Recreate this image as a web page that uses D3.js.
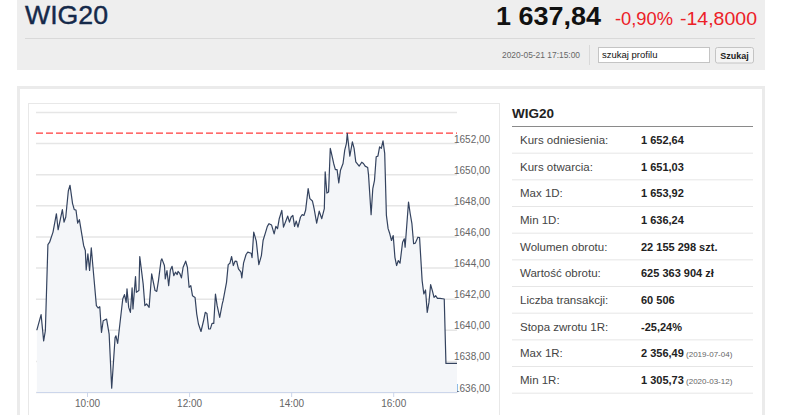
<!DOCTYPE html>
<html>
<head>
<meta charset="utf-8">
<script src="https://cdn.jsdelivr.net/npm/d3@7"></script>
<style>
    body { margin: 0; background: #fff; }
    svg { display: block; font-family: "Liberation Sans", Arial, sans-serif; }
</style>
</head>
<body>
<script>

/* intraday WIG20 quotes, 2020-05-21 */
let times = [
    "09:01", "09:06", "09:09", "09:11", "09:14", "09:16", "09:20", "09:24", "09:26", "09:31",
    "09:33", "09:35", "09:38", "09:40", "09:43", "09:45", "09:47", "09:49", "09:51", "09:56",
    "09:58", "09:59", "10:01", "10:03", "10:05", "10:07", "10:11", "10:13", "10:15", "10:17",
    "10:19", "10:23", "10:26", "10:29", "10:33", "10:34", "10:36", "10:42", "10:44", "10:46",
    "10:47", "10:49", "10:51", "10:53", "10:54", "10:57", "10:58", "11:01", "11:02", "11:06",
    "11:08", "11:10", "11:13", "11:16", "11:20", "11:22", "11:24", "11:27", "11:28", "11:31",
    "11:32", "11:34", "11:36", "11:38", "11:40", "11:42", "11:44", "11:46", "11:47", "11:49",
    "11:51", "11:53", "11:56", "11:58", "12:00", "12:02", "12:04", "12:07", "12:09", "12:11",
    "12:14", "12:17", "12:19", "12:21", "12:23", "12:25", "12:27", "12:29", "12:31", "12:33",
    "12:36", "12:39", "12:40", "12:44", "12:46", "12:48", "12:50", "12:52", "12:54", "12:56",
    "12:58", "13:01", "13:02", "13:04", "13:07", "13:09", "13:13", "13:14", "13:16", "13:19",
    "13:22", "13:25", "13:27", "13:30", "13:32", "13:34", "13:37", "13:40", "13:42", "13:44",
    "13:46", "13:49", "13:51", "13:54", "13:56", "13:58", "14:00", "14:02", "14:04", "14:06",
    "14:08", "14:11", "14:13", "14:15", "14:17", "14:20", "14:22", "14:25", "14:27", "14:30",
    "14:33", "14:34", "14:36", "14:39", "14:40", "14:42", "14:44", "14:46", "14:47", "14:50",
    "14:52", "14:54", "14:56", "14:58", "15:01", "15:03", "15:05", "15:06", "15:09", "15:12",
    "15:14", "15:16", "15:20", "15:23", "15:25", "15:27", "15:30", "15:31", "15:34", "15:36",
    "15:38", "15:40", "15:42", "15:44", "15:46", "15:48", "15:50", "15:52", "15:54", "15:56",
    "15:58", "16:00", "16:02", "16:04", "16:06", "16:08", "16:11", "16:13", "16:14", "16:18",
    "16:20", "16:22", "16:24", "16:26", "16:29", "16:31", "16:34", "16:36", "16:38", "16:40",
    "16:42", "16:44", "16:46", "16:48", "16:50", "16:52", "16:55", "17:00", "17:02", "17:15"
];

let values = [
    1639.98, 1640.97, 1639.29, 1639.94, 1645.48, 1645.63, 1646.28, 1647.46, 1646.43, 1647.72,
    1646.92, 1647.25, 1648.92, 1649.29, 1648.11, 1647.72, 1647.70, 1646.86, 1647.08, 1645.42,
    1645.10, 1643.85, 1644.88, 1643.81, 1645.27, 1644.02, 1641.55, 1641.40, 1641.48, 1639.83,
    1640.58, 1640.69, 1639.72, 1636.24, 1639.50, 1639.61, 1639.12, 1641.98, 1642.26, 1641.76,
    1642.63, 1641.44, 1641.12, 1642.69, 1641.34, 1643.42, 1642.41, 1642.52, 1644.71, 1642.95,
    1641.55, 1641.66, 1641.44, 1643.59, 1642.52, 1642.47, 1643.16, 1644.45, 1644.56, 1644.13,
    1643.27, 1643.81, 1642.84, 1643.85, 1644.08, 1643.48, 1643.70, 1643.55, 1643.76, 1643.63,
    1643.34, 1644.02, 1644.41, 1644.02, 1642.73, 1642.84, 1642.19, 1642.08, 1641.01, 1640.37,
    1639.89, 1640.58, 1641.12, 1641.05, 1640.05, 1640.06, 1640.41, 1640.41, 1642.30, 1641.55,
    1640.79, 1641.66, 1641.87, 1643.05, 1644.19, 1644.28, 1644.71, 1644.13, 1644.41, 1644.40,
    1643.92, 1643.70, 1643.34, 1644.28, 1644.84, 1644.99, 1644.92, 1644.63, 1646.28, 1645.70,
    1644.19, 1644.77, 1645.74, 1646.28, 1646.65, 1646.82, 1646.73, 1646.17, 1646.65, 1646.50,
    1647.14, 1647.68, 1646.60, 1647.03, 1647.31, 1646.92, 1647.25, 1647.35, 1646.65, 1646.99,
    1646.60, 1647.25, 1647.40, 1647.35, 1647.68, 1649.08, 1648.43, 1648.28, 1647.79, 1646.86,
    1647.63, 1647.46, 1647.14, 1647.79, 1650.15, 1648.79, 1648.86, 1651.66, 1651.44, 1650.69,
    1650.30, 1650.30, 1649.44, 1650.26, 1650.69, 1651.55, 1651.98, 1652.62, 1651.16, 1652.08,
    1651.66, 1650.79, 1650.52, 1650.77, 1650.69, 1650.52, 1650.43, 1649.94, 1647.40, 1649.08,
    1649.61, 1651.12, 1651.16, 1651.76, 1651.66, 1652.15, 1651.34, 1647.35, 1646.50, 1646.17,
    1645.74, 1646.06, 1644.66, 1644.13, 1644.45, 1644.28, 1645.63, 1645.85, 1645.31, 1648.21,
    1647.46, 1646.82, 1645.53, 1645.57, 1645.95, 1645.92, 1643.16, 1642.30, 1642.56, 1641.12,
    1641.76, 1642.90, 1642.52, 1642.08, 1642.19, 1642.02, 1642.02, 1641.98, 1637.84, 1637.84
];

let referencePrice = 1652.64;
let sessionRange = ["09:00", "17:15"];
let xTicks = ["10:00", "12:00", "14:00", "16:00"];
let yTicks = [1636, 1638, 1640, 1642, 1644, 1646, 1648, 1650, 1652, 1654];
let yDomain = [1636, 1654];

let statLabels = ["Kurs odniesienia:", "Kurs otwarcia:", "Max 1D:", "Min 1D:", "Wolumen obrotu:",
    "Wartość obrotu:", "Liczba transakcji:", "Stopa zwrotu 1R:", "Max 1R:", "Min 1R:"];
let statValues = ["1 652,64", "1 651,03", "1 653,92", "1 636,24", "22 155 298 szt.",
    "625 363 904 zł", "60 506", "-25,24%", "2 356,49", "1 305,73"];
let statNotes = ["", "", "", "", "", "", "", "", "(2019-07-04)", "(2020-03-12)"];

let width = 786;
let height = 415;

let svg = d3.select("body")
    .append("svg")
    .attr("width", width)
    .attr("height", height);

/* ---------- header bar ---------- */
let head = svg.append("g");

head.append("rect").attr("x", 17).attr("y", 0).attr("width", 748).attr("height", 70).attr("fill", "#eeeeee");

head.append("text").attr("x", 25).attr("y", 24).text("WIG20")
    .attr("font-size", "25px").attr("fill", "#15294a")
    .attr("stroke", "#15294a").attr("stroke-width", 0.4)
    .attr("textLength", 83).attr("lengthAdjust", "spacingAndGlyphs");

head.append("text").attr("x", 496).attr("y", 25).text("1 637,84")
    .attr("font-size", "26px").attr("font-weight", "bold").attr("fill", "#111")
    .attr("textLength", 105).attr("lengthAdjust", "spacingAndGlyphs");

head.append("text").attr("x", 615).attr("y", 25).text("-0,90%")
    .attr("font-size", "19px").attr("fill", "#ec2027")
    .attr("textLength", 58).attr("lengthAdjust", "spacingAndGlyphs");

head.append("text").attr("x", 680).attr("y", 25).text("-14,8000")
    .attr("font-size", "19px").attr("fill", "#ec2027")
    .attr("textLength", 77).attr("lengthAdjust", "spacingAndGlyphs");

head.append("line").attr("x1", 25).attr("x2", 755).attr("y1", 38.5).attr("y2", 38.5)
    .attr("stroke", "#d9d9d9");

head.append("text").attr("x", 502).attr("y", 58).text("2020-05-21 17:15:00")
    .attr("font-size", "8.5px").attr("fill", "#666")
    .attr("textLength", 78).attr("lengthAdjust", "spacingAndGlyphs");

head.append("line").attr("x1", 589.5).attr("x2", 589.5).attr("y1", 45).attr("y2", 65)
    .attr("stroke", "#d9d9d9");

/* search box + button */
head.append("rect").attr("x", 598.5).attr("y", 47.5).attr("width", 111).attr("height", 15)
    .attr("fill", "#fff").attr("stroke", "#c4c4c4");
head.append("text").attr("x", 602).attr("y", 57.5).text("szukaj profilu")
    .attr("font-size", "9.5px").attr("fill", "#111");

head.append("rect").attr("x", 715.5).attr("y", 47.5).attr("width", 38).attr("height", 15.5)
    .attr("rx", 2).attr("fill", "#f4f4f4").attr("stroke", "#c4c4c4");
head.append("text").attr("x", 734.5).attr("y", 58.5).text("Szukaj")
    .attr("font-size", "9px").attr("font-weight", "bold").attr("fill", "#222")
    .attr("text-anchor", "middle");

/* ---------- panel ---------- */
svg.append("rect").attr("x", 18.5).attr("y", 87.5).attr("width", 745).attr("height", 340)
    .attr("fill", "#fff").attr("stroke", "#ebebeb").attr("stroke-width", 3);

svg.append("rect").attr("x", 28.5).attr("y", 103.5).attr("width", 471).attr("height", 330)
    .attr("fill", "#fff").attr("stroke", "#e8e8e8");

/* ---------- chart ---------- */
let parseTime = d3.timeParse("%H:%M");
let data = times.map((t, i) => ({ time: parseTime(t), value: values[i] }));

let xScale = d3.scaleTime()
    .domain(sessionRange.map(parseTime))
    .range([36, 457]);

let yScale = d3.scaleLinear()
    .domain(yDomain)
    .range([392, 112]);

let fmt = d3.format(".2f");

/* gridlines + labels on the right (top gridline has no label) */
let yAxis = d3.axisRight(yScale)
    .tickValues(yTicks)
    .tickSize(-(457 - 36))
    .tickFormat(d => d === yDomain[1] ? "" : fmt(d).replace(".", ","));

let yG = svg.append("g")
    .attr("transform", "translate(457,0)")
    .call(yAxis);
yG.select(".domain").remove();
yG.selectAll(".tick line").attr("stroke", "#e6e6e6").attr("stroke-width", 1.5);
yG.selectAll(".tick text")
    .attr("x", -3).attr("dy", "-0.1em")
    .attr("fill", "#666").attr("font-size", "10px")
    .attr("font-family", "'Liberation Sans', Arial, sans-serif");

/* area + line */
let area = d3.area()
    .x(d => xScale(d.time))
    .y0(yScale(yDomain[0]))
    .y1(d => yScale(d.value));

svg.append("path").datum(data)
    .attr("d", area)
    .attr("fill", "#f4f6f9");

/* reference price (dashed) */
svg.append("line")
    .attr("x1", 36).attr("x2", 457)
    .attr("y1", yScale(referencePrice)).attr("y2", yScale(referencePrice))
    .attr("stroke", "#ff3b3b").attr("stroke-width", 1.2)
    .attr("stroke-dasharray", "7,3");

let line = d3.line()
    .x(d => xScale(d.time))
    .y(d => yScale(d.value));

svg.append("path").datum(data)
    .attr("d", line)
    .attr("fill", "none")
    .attr("stroke", "#34435f")
    .attr("stroke-width", 1.2)
    .attr("stroke-linejoin", "round");

/* x axis */
let xAxis = d3.axisBottom(xScale)
    .tickValues(xTicks.map(parseTime))
    .tickSize(5)
    .tickSizeOuter(0)
    .tickFormat(d3.timeFormat("%H:%M"));

let xG = svg.append("g")
    .attr("transform", "translate(0,392)")
    .call(xAxis);
xG.select(".domain").attr("stroke", "#ccd6eb");
xG.selectAll(".tick line").attr("stroke", "#ccd6eb");
xG.selectAll(".tick text")
    .attr("fill", "#666").attr("font-size", "10px")
    .attr("font-family", "'Liberation Sans', Arial, sans-serif");

/* ---------- stats table ---------- */
let tbl = svg.append("g");

tbl.append("text").attr("x", 512).attr("y", 118).text("WIG20")
    .attr("font-size", "13.5px").attr("font-weight", "bold").attr("fill", "#222");

tbl.append("line").attr("x1", 512).attr("x2", 753).attr("y1", 126.5).attr("y2", 126.5)
    .attr("stroke", "#8a8a8a");

let rowH = 26.67;

statLabels.forEach((label, i) => {
    let top = 126.5 + i * rowH;
    let base = top + rowH / 2 + 4;

    tbl.append("text").attr("x", 520).attr("y", base).text(label)
        .attr("font-size", "11.5px").attr("fill", "#444");

    let v = tbl.append("text").attr("x", 641).attr("y", base)
        .attr("font-size", "11px").attr("fill", "#222");
    v.append("tspan").attr("font-weight", "bold").text(statValues[i]);
    if (statNotes[i]) {
        v.append("tspan").attr("font-size", "8px").attr("fill", "#666").text(" " + statNotes[i]);
    }

    tbl.append("line").attr("x1", 512).attr("x2", 753)
        .attr("y1", top + rowH).attr("y2", top + rowH)
        .attr("stroke", "#e6e6e6");
});

</script>
</body>
</html>
